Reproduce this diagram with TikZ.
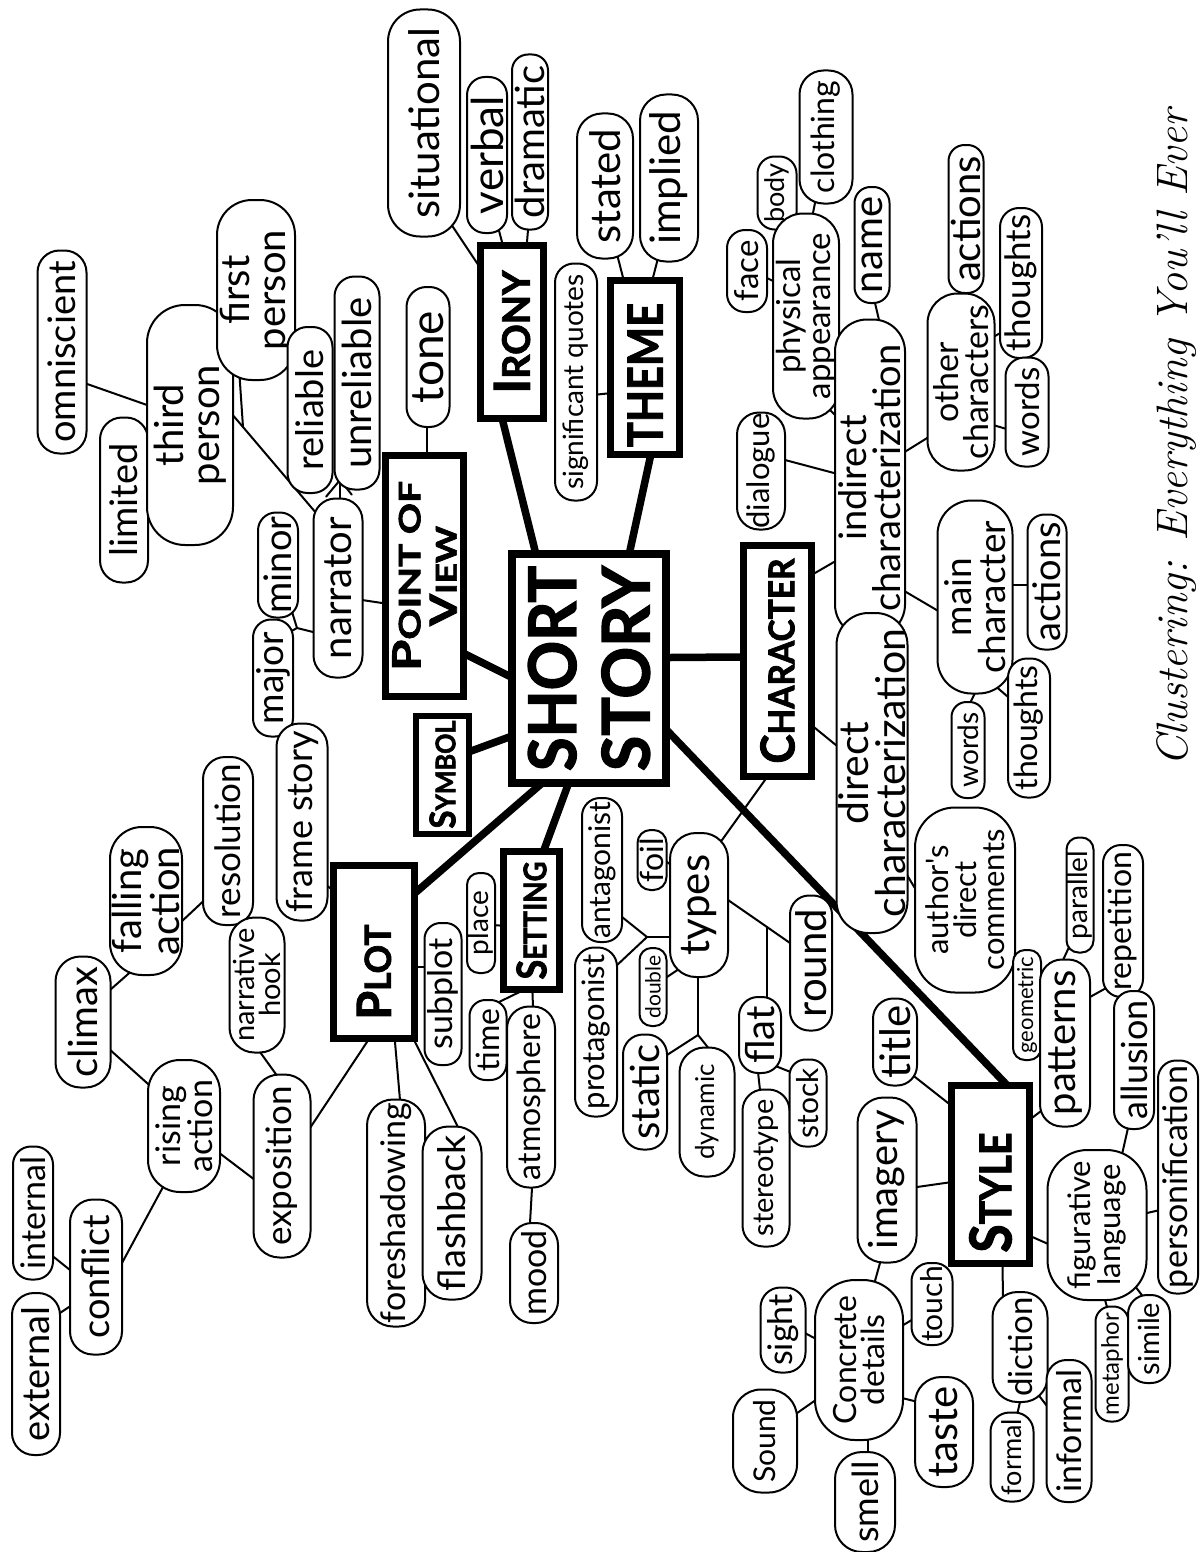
\documentclass[tikz,border=0pt]{standalone}
\usepackage{fontspec}
\newfontfamily\hand{Lato}
\newfontfamily\heavy{Lato}[BoldFeatures={FakeBold=2}]
\usetikzlibrary{calc,backgrounds}
\newcommand{\fz}[2]{\hand\fontsize{#1}{#2}\selectfont}
\newcommand{\hd}[2]{{\fontsize{34}{34}\selectfont #1}{\fontsize{26}{26}\selectfont #2}}
\tikzset{
 ov/.style n args={3}{draw, line width=2pt, fill=white, rotate=90, align=center, inner sep=0pt,
   minimum width=#1pt, minimum height=#2pt, rounded corners=#3pt},
 fs/.code={\pgfmathsetmacro\tmpbs{0.9*#1}\edef\tmpfont{\noexpand\fz{#1}{\tmpbs}}\tikzset{font/.expand once=\tmpfont}},
 hb/.style n args={2}{draw, line width=7pt, fill=white, rotate=90, align=center, inner sep=0pt,
   minimum width=#1pt, minimum height=#2pt, font=\heavy\bfseries},
 link/.style={line width=2pt, line cap=round, shorten <=-6pt, shorten >=-6pt},
 trunk/.style={line width=7.5pt, shorten <=-8pt, shorten >=-8pt},
}
\newcommand{\cn}[7][]{\draw[link,#1] ($(#2)+(#3,#4)$) -- ($(#5)+(#6,#7)$);}
\newcommand{\cnT}[6]{\draw[trunk] ($(#1)+(#2,#3)$) -- ($(#4)+(#5,#6)$);}
\begin{document}
\begin{tikzpicture}[x=1pt,y=-1pt]
\useasboundingbox (0,0) rectangle (1199,1552);
\node[rotate=90, anchor=base west, inner sep=0pt] (ttl) at (1187,767)
  {\resizebox{657pt}{!}{\fontsize{43}{43}\selectfont\itshape Clustering: Everything You'll Ever}};

% ---------- heading boxes ----------
\node[hb={229}{154}, line width=8pt] (SS) at (589,668.5)
  {\resizebox{205pt}{48pt}{SHORT}\\[24pt]\resizebox{205pt}{48pt}{STORY}};
\node[hb={241}{78}] (POV) at (424.5,576)
  {\resizebox{190pt}{28pt}{\hd{P}{OINT OF}}\\[8pt]\resizebox{100pt}{27pt}{\hd{V}{IEW}}};
\node[hb={173}{63}] (Irony) at (512,332) {\resizebox{123pt}{36pt}{\hd{I}{RONY}}};
\node[hb={174}{69}] (Theme) at (645,367.5) {\resizebox{144pt}{35pt}{THEME}\hspace{15pt}};
\node[hb={231}{68}] (Char) at (777.5,661) {\resizebox{205pt}{34pt}{\hd{C}{HARACTER}}};
\node[hb={118}{53}, line width=6pt] (Symbol) at (442.5,774.5) {\resizebox{108pt}{26pt}{\hd{S}{YMBOL}}};
\node[hb={138}{56}] (Setting) at (531.5,920.5) {\resizebox{118pt}{30pt}{\hd{S}{ETTING}}};
\node[hb={173}{81}] (Plot) at (374,952) {\resizebox{95pt}{34pt}{\hd{P}{LOT}}\hspace{40pt}};
\node[hb={178}{78}] (Style) at (990.5,1174.5) {\resizebox{120pt}{42pt}{\hd{S}{TYLE}}\hspace{36pt}};

% ---------- point of view ----------
\node[ov={203}{49}{22}, fs=38] (omni) at (62,352) {omniscient};
\node[ov={165}{48}{22}, fs=38] (limited) at (124,500) {limited};
\node[ov={240}{86}{38}, fs=40] (third) at (190,425) {third\\person};
\node[ov={180}{78}{35}, fs=40] (first) at (256,290) {first\\person};
\node[ov={166}{45}{20}, fs=38] (reliable) at (310,410) {reliable};
\node[ov={213}{45}{20}, fs=40] (unreliable) at (357,383) {unreliable};
\node[ov={179}{49}{22}, fs=40] (narrator) at (338,588) {narrator};
\node[ov={105}{40}{18}, fs=38] (minor) at (278,565) {minor};
\node[ov={117}{40}{18}, fs=37] (major) at (273,678) {major};
\node[ov={140}{43}{20}, fs=46] (tone) at (428,357) {tone};

% ---------- irony / theme ----------
\node[ov={227}{72}{32}, fs=42] (situ) at (424,123) {situational};
\node[ov={156}{40}{18}, fs=44] (verbal) at (487,155) {verbal};
\node[ov={175}{36}{16}, fs=40] (dramatic) at (530,142) {dramatic};
\node[ov={237}{42}{19}, fs=28] (sigq) at (576,382) {significant quotes};
\node[ov={145}{56}{25}, fs=42] (stated) at (605,186) {stated};
\node[ov={167}{58}{26}, fs=42] (implied) at (669,178) {implied};

% ---------- character ----------
\node[ov={82}{40}{18}, fs=33] (face) at (747,271) {face};
\node[ov={73}{39}{17}, fs=27] (body) at (777,193) {body};
\node[ov={133}{53}{24}, fs=32] (clothing) at (826,137) {clothing};
\node[ov={205}{66}{30}, fs=33] (phys) at (806,316) {physical\\appearance};
\node[ov={116}{35}{16}, fs=40] (name) at (872,245) {name};
\node[ov={317}{70}{32}, fs=38] (indirect) at (870,478) {indirect\\characterization};
\node[ov={117}{48}{22}, fs=31] (dialogue) at (761,471) {dialogue};
\node[ov={177}{67}{30}, fs=34] (other) at (961,382) {other\\characters};
\node[ov={148}{35}{16}, fs=40] (act1) at (966,219) {actions};
\node[ov={150}{42}{19}, fs=35] (thou1) at (1021,283) {thoughts};
\node[ov={109}{43}{19}, fs=33] (word1) at (1027,412) {words};
\node[ov={193}{75}{34}, fs=37] (mainc) at (975,597) {main\\character};
\node[ov={135}{39}{17}, fs=38] (act2) at (1047,582) {actions};
\node[ov={139}{42}{19}, fs=32] (thou2) at (1029,728) {thoughts};
\node[ov={96}{33}{15}, fs=28] (word2) at (968,750) {words};
\node[ov={320}{71}{32}, fs=41] (direct) at (872,773) {direct\\characterization};
\node[ov={185}{100}{40}, fs=31] (authors) at (965,900) {author's\\direct\\comments};

% ---------- types ----------
\node[ov={135}{42}{19}, fs=42] (round) at (811,963) {round};
\node[ov={144}{58}{26}, fs=42] (types) at (699,905) {types};
\node[ov={60}{29}{13}, fs=32] (foil) at (652,860) {foil};
\node[ov={78}{27}{12}, fs=21] (double) at (653,987) {double};
\node[ov={144}{40}{18}, fs=30] (antag) at (602,870) {antagonist};
\node[ov={169}{42}{19}, fs=31] (protag) at (596,1032) {protagonist};
\node[ov={115}{44}{20}, fs=40] (static) at (645,1092) {static};
\node[ov={129}{55}{25}, fs=26] (dynamic) at (707,1112) {dynamic};
\node[ov={76}{42}{19}, fs=40] (flat) at (760,1035) {flat};
\node[ov={157}{47}{21}, fs=29] (stereo) at (766,1168) {stereotype};
\node[ov={87}{37}{16}, fs=30] (stock) at (808,1103) {stock};

% ---------- style ----------
\node[ov={115}{27}{12}, fs=28] (parallel) at (1080,895) {parallel};
\node[ov={152}{40}{18}, fs=32] (repet) at (1123,921) {repetition};
\node[ov={110}{28}{12}, fs=22] (geom) at (1027,1005) {geometric};
\node[ov={167}{50}{22}, fs=40] (patterns) at (1065,1043) {patterns};
\node[ov={138}{40}{18}, fs=36] (allusion) at (1134,1060) {allusion};
\node[ov={233}{40}{18}, fs=34] (personif) at (1178,1177) {personification};
\node[ov={87}{44}{20}, fs=42] (title) at (895,1042) {title};
\node[ov={165}{59}{26}, fs=40] (imagery) at (887,1180) {imagery};
\node[ov={150}{99}{40}, fs=31] (figur) at (1097,1225) {figurative\\language};
\node[ov={160}{88}{40}, fs=32] (concrete) at (859,1360) {Concrete\\details};
\node[ov={82}{41}{18}, fs=30] (touch) at (932,1304) {touch};
\node[ov={110}{58}{26}, fs=42] (taste) at (944,1432) {taste};
\node[ov={100}{60}{27}, fs=36] (smell) at (865,1502) {smell};
\node[ov={85}{45}{20}, fs=34] (sight) at (783,1330) {sight};
\node[ov={103}{64}{28}, fs=30] (sound) at (765,1441) {Sound};
\node[ov={110}{55}{25}, fs=33] (diction) at (1020,1347) {diction};
\node[ov={89}{43}{19}, fs=27] (formal) at (1012,1457) {formal};
\node[ov={142}{45}{20}, fs=34] (informal) at (1069,1431) {informal};
\node[ov={115}{33}{15}, fs=24] (metaphor) at (1112,1364) {metaphor};
\node[ov={88}{42}{19}, fs=29] (simile) at (1149,1339) {simile};

% ---------- plot ----------
\node[ov={197}{51}{23}, fs=36] (frame) at (302,822) {frame story};
\node[ov={168}{50}{22}, fs=35] (resol) at (228,841) {resolution};
\node[ov={148}{72}{32}, fs=40] (falling) at (146,901) {falling\\action};
\node[ov={131}{55}{25}, fs=40] (climax) at (83,1022) {climax};
\node[ov={135}{55}{25}, fs=29] (hook) at (257,985) {narrative\\hook};
\node[ov={132}{72}{32}, fs=34] (rising) at (184,1126) {rising\\action};
\node[ov={183}{57}{26}, fs=35] (expo) at (282,1166) {exposition};
\node[ov={155}{52}{23}, fs=38] (conflict) at (96,1277) {conflict};
\node[ov={133}{40}{18}, fs=34] (internal) at (33,1213) {internal};
\node[ov={162}{48}{22}, fs=38] (external) at (36,1374) {external};
\node[ov={227}{58}{26}, fs=34] (foresh) at (396,1213) {foreshadowing};
\node[ov={173}{59}{26}, fs=38] (flash) at (452,1213) {flashback};
\node[ov={142}{37}{16}, fs=34] (subplot) at (443,994) {subplot};
\node[ov={100}{28}{12}, fs=28] (place) at (481,923) {place};
\node[ov={80}{37}{16}, fs=32] (time) at (488,1040) {time};
\node[ov={181}{48}{22}, fs=32] (atmos) at (531,1097) {atmosphere};
\node[ov={100}{48}{22}, fs=34] (mood) at (534,1273) {mood};

% junctions
\coordinate (J1) at (297,628);
\coordinate (J2) at (340,480);
\coordinate (J3) at (243,427);
\coordinate (J4) at (647,937);
\coordinate (J5) at (767,927);
\coordinate (J6) at (698,1035);

\begin{pgfonlayer}{background}
\fill[white] (0,0) rectangle (1199,1552);
% trunks
\cnT{SS}{-81}{7}{POV}{38.5}{77}
\cnT{SS}{-81}{69}{Symbol}{30}{-24}
\cnT{SS}{-52}{119}{Plot}{41}{-59}
\cnT{SS}{-22}{119}{Setting}{13}{-72}
\cnT{SS}{81}{-11}{Char}{-37.5}{-4}
\cnT{SS}{81}{65}{Style}{13}{-93}
\cnT{SS}{-54}{-118}{Irony}{-9}{90}
\cnT{SS}{41}{-118}{Theme}{5}{91}
% point of view
\cn{tone}{-1}{70}{POV}{2.5}{-124}
\cn{POV}{-42.5}{27}{narrator}{24}{12}
\draw[link, shorten >=0pt] ($(narrator)+(-25,44)$) -- (J1);
\draw[link, shorten <=0pt] (J1) -- ($(minor)+(15,50)$);
\draw[link, shorten <=0pt] (J1) -- ($(major)+(15,-45)$);
\draw[link, shorten >=0pt] ($(narrator)+(2,-90)$) -- (J2);
\draw[link, shorten <=0pt] (J2) -- ($(reliable)+(20,82)$);
\draw[link, shorten <=0pt] (J2) -- ($(unreliable)+(-9,107)$);
\draw[link, shorten >=0pt] ($(third)+(23,-33)$) -- (J3);
\draw[link, shorten <=0pt] (J3) -- ($(narrator)+(-16,-68)$);
\draw[link, shorten >=0pt] ($(first)+(-16,93)$) -- (J3);
\cn{omni}{28}{33}{third}{-43}{-20}
\cn{limited}{23}{-25}{third}{-40}{50}
% irony / theme
\cn{Irony}{-35}{-69}{situ}{29}{104}
\cn{Irony}{-10}{-90}{verbal}{11}{72}
\cn{Irony}{15}{-90}{dramatic}{-2}{88}
\cn{Theme}{-22}{-90}{stated}{13}{72}
\cn{Theme}{8}{-90}{implied}{-12}{84}
\cn{Theme}{-38}{26}{sigq}{17}{13}
% character
\cn{Char}{37.5}{-88}{indirect}{-36}{84}
\cn{Char}{37.5}{67}{direct}{-30}{-23}
\cn{Char}{-12.5}{119}{types}{23}{-65}
\cn{indirect}{-36}{-5}{dialogue}{24}{-11}
\cn{phys}{25}{95}{indirect}{-32}{-60}
\cn{indirect}{9}{-158}{name}{3}{58}
\cn{indirect}{33}{-25}{other}{-29}{53}
\cn{other}{2}{-87}{act1}{-3}{73}
\cn{other}{27}{-42}{thou1}{-19}{49}
\cn{other}{32}{43}{word1}{-17}{18}
\cn{phys}{-31}{-34}{face}{20}{7}
\cn{phys}{-21}{-71}{body}{6}{37}
\cn{phys}{7}{-103}{clothing}{-11}{66}
\cn{indirect}{36}{114}{mainc}{-35}{15}
\cn{mainc}{38}{-12}{act2}{-17}{3}
\cn{mainc}{0}{96}{word2}{2}{-47}
\cn{mainc}{25}{93}{thou2}{-14}{-25}
\cn{direct}{35}{102}{authors}{-46}{-5}
% types
\draw[link, shorten >=0pt] ($(types)+(-22,32)$) -- (J4);
\draw[link, shorten <=0pt] (J4) -- ($(antag)+(15,43)$);
\draw[link, shorten <=0pt] (J4) -- ($(protag)+(19,-65)$);
\cn{types}{-21}{-35}{foil}{15}{2}
\cn{types}{-17}{62}{double}{14}{-10}
\draw[link, shorten >=0pt] ($(types)+(29,-5)$) -- (J5);
\draw[link, shorten <=0pt] (J5) -- ($(round)+(-21,-20)$);
\draw[link, shorten <=0pt] (J5) -- ($(flat)+(7,-38)$);
\draw[link, shorten >=0pt] ($(types)+(-1,72)$) -- (J6);
\draw[link, shorten <=0pt] (J6) -- ($(static)+(22,-37)$);
\draw[link, shorten <=0pt] (J6) -- ($(dynamic)+(3,-62)$);
\cn{flat}{-2}{37}{stereo}{-6}{-78}
\cn{flat}{13}{30}{stock}{-15}{-30}
% plot
\cn{Plot}{-44}{-64}{frame}{15}{56}
\cn{Plot}{-7}{90}{expo}{28}{-38}
\cn{Plot}{21}{90}{foresh}{4}{-113}
\cn{Plot}{41}{90}{flash}{6}{-86}
\cn{Plot}{44}{15}{subplot}{-18}{-27}
\cn{expo}{-4}{-89}{hook}{3}{67}
\cn{expo}{-27}{14}{rising}{34}{26}
\cn{rising}{-27}{-34}{climax}{25}{26}
\cn{falling}{-19}{74}{climax}{27}{-32}
\cn{falling}{34}{22}{resol}{-16}{52}
\cn{rising}{-21}{61}{conflict}{26}{-14}
\cn{conflict}{-26}{-7}{internal}{22}{45}
\cn{conflict}{-24}{28}{external}{24}{-61}
% setting
\cn{Setting}{-32}{5}{place}{12}{2}
\cn{Setting}{-15}{73}{time}{9}{-37}
\cn{Setting}{1}{73}{atmos}{2}{-90}
\cn{atmos}{1}{91}{mood}{-4}{-50}
% style
\cn{Style}{-38}{-68}{title}{20}{35}
\cn{Style}{-42}{8}{imagery}{30}{7}
\cn{Style}{42}{-57}{patterns}{-20}{65}
\cn{Style}{43}{63}{figur}{-42}{22}
\cn{Style}{12}{92}{diction}{-17}{-50}
\cn{patterns}{-2}{-83}{parallel}{-10}{50}
\cn{patterns}{25}{-46}{repet}{-15}{66}
\cn{figur}{26}{-75}{allusion}{-6}{68}
\cn{figur}{50}{-12}{personif}{-18}{33}
\cn{figur}{8}{75}{metaphor}{-5}{-57}
\cn{figur}{41}{65}{simile}{-1}{-36}
\cn{imagery}{-7}{83}{concrete}{14}{-72}
\cn{concrete}{41}{-33}{touch}{-17}{14}
\cn{concrete}{43}{38}{taste}{-26}{-30}
\cn{concrete}{9}{80}{smell}{3}{-47}
\cn{concrete}{-41}{-20}{sight}{20}{2}
\cn{concrete}{-39}{37}{sound}{25}{-23}
\cn{diction}{0}{55}{formal}{5}{-42}
\cn{diction}{17}{46}{informal}{-19}{-21}
\end{pgfonlayer}
\end{tikzpicture}
\end{document}
